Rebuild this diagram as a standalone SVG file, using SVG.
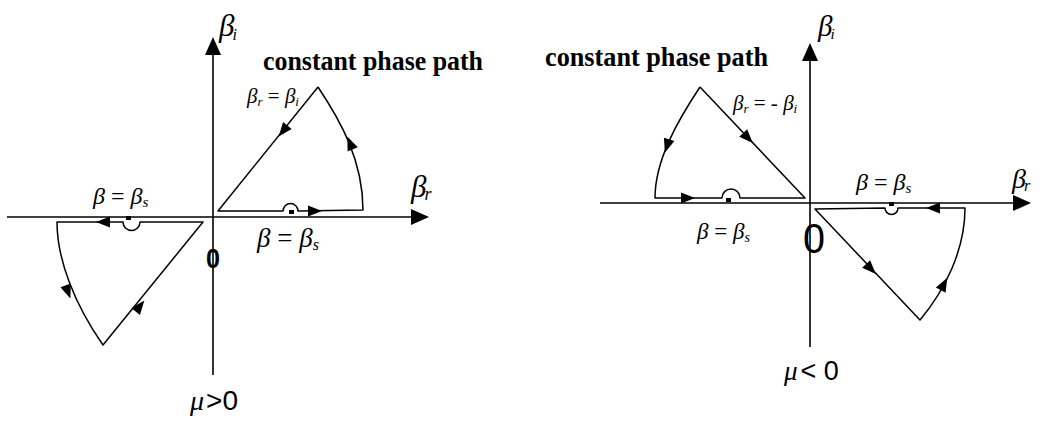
<svg xmlns="http://www.w3.org/2000/svg" xmlns:xlink="http://www.w3.org/1999/xlink" width="1042" height="421" viewBox="0 0 1042 421">
<defs>
<style>
.ax{stroke:#000;stroke-width:1.6;fill:none}
.pth{stroke:#000;stroke-width:1.5;fill:none;stroke-linejoin:round}
.title{font-family:"Liberation Serif",serif;font-weight:bold;font-size:28px;fill:#000}
.gr{font-family:"Liberation Serif",serif;font-style:italic;fill:#000}
.num{font-family:"Liberation Sans",sans-serif;fill:#000}
</style>
<path id="ah" d="M7,0 L-7,-5.5 L-7,5.5 Z" fill="#000"/>
<path id="axh" d="M0,0 L-18,-8 L-18,8 Z" fill="#000"/>
</defs>
<rect width="1042" height="421" fill="#fff"/>

<g id="left-axes">
<line class="ax" x1="7" y1="217" x2="414" y2="217"/>
<use xlink:href="#axh" transform="translate(429,217)"/>
<line class="ax" x1="213" y1="375" x2="213" y2="54"/>
<use xlink:href="#axh" transform="translate(213,37) rotate(-90)"/>
<text class="gr" x="219" y="36" font-size="31">β<tspan font-size="16" dx="-2" dy="4">i</tspan></text>
<text class="gr" x="411" y="197" font-size="31">β<tspan font-size="18" dx="-2" dy="3">r</tspan></text>
<text class="num" x="206" y="268" font-size="28" font-weight="bold" textLength="14" lengthAdjust="spacingAndGlyphs">0</text>
<text x="190" y="410" font-size="28"><tspan class="gr">μ</tspan><tspan class="num" dx="2">&gt;0</tspan></text>
<text class="title" x="263" y="70" textLength="220" lengthAdjust="spacingAndGlyphs">constant phase path</text>
</g>

<g id="left-q1-path">
<path class="pth" d="M318,87 L218,211 L283,211 A7.5,7.5 0 0 1 298,211 L363,210 C363,160 340,120 318,87"/>
<rect x="289" y="210" width="5" height="4" fill="#000"/>
<use xlink:href="#ah" transform="translate(315,211)"/>
<use xlink:href="#ah" transform="translate(283,131) rotate(128.7)"/>
<use xlink:href="#ah" transform="translate(350,143) rotate(-112.7)"/>
<text class="gr" x="247" y="103" font-size="21">β<tspan font-size="13" dy="3">r</tspan><tspan dy="-3" font-style="normal"> = </tspan>β<tspan font-size="13" dy="3">i</tspan></text>
<text class="gr" x="257" y="247" font-size="27">β<tspan font-style="normal"> = </tspan>β<tspan font-size="16" dy="3">s</tspan></text>
</g>

<g id="left-q3-path">
<path class="pth" d="M203,222 L140,222 A8.5,8.5 0 0 1 123,222 L57,222 C57,260 75,305 103,345 Z"/>
<rect x="126" y="216" width="5" height="4" fill="#000"/>
<use xlink:href="#ah" transform="translate(103,222) rotate(180)"/>
<use xlink:href="#ah" transform="translate(68,292) rotate(70)"/>
<use xlink:href="#ah" transform="translate(140,306) rotate(-50.9)"/>
<text class="gr" x="93" y="204" font-size="24">β<tspan font-style="normal"> = </tspan>β<tspan font-size="15" dy="3">s</tspan></text>
</g>

<g id="right-axes">
<line class="ax" x1="600" y1="203" x2="1015" y2="203"/>
<use xlink:href="#axh" transform="translate(1031,203)"/>
<line class="ax" x1="810" y1="347" x2="810" y2="60"/>
<use xlink:href="#axh" transform="translate(810,43) rotate(-90)"/>
<text class="gr" x="818" y="36" font-size="29">β<tspan font-size="15" dx="-2" dy="3">i</tspan></text>
<text class="gr" x="1012" y="188" font-size="28">β<tspan font-size="16" dx="-2" dy="3">r</tspan></text>
<text class="num" x="803" y="253" font-size="42" textLength="22" lengthAdjust="spacingAndGlyphs">0</text>
<text x="784" y="380" font-size="27"><tspan class="gr">μ</tspan><tspan class="num" dx="3">&lt; 0</tspan></text>
<text class="title" x="545" y="66" textLength="223" lengthAdjust="spacingAndGlyphs">constant phase path</text>
</g>

<g id="right-q2-path">
<path class="pth" d="M700,87 L805,198 L740,198 A9,9 0 0 0 722,198 L655,198 C655,160 678,120 700,87"/>
<rect x="726" y="198" width="5" height="4" fill="#000"/>
<use xlink:href="#ah" transform="translate(688,198)"/>
<use xlink:href="#ah" transform="translate(748,138) rotate(46.6)"/>
<use xlink:href="#ah" transform="translate(667,146) rotate(108)"/>
<text class="gr" x="733" y="110" font-size="21">β<tspan font-size="13" dy="3">r</tspan><tspan dy="-3" font-style="normal"> = - </tspan>β<tspan font-size="13" dy="3">i</tspan></text>
<text class="gr" x="697" y="239" font-size="23">β<tspan font-style="normal"> = </tspan>β<tspan font-size="14" dy="3">s</tspan></text>
</g>

<g id="right-q4-path">
<path class="pth" d="M815,209 L920,320 C945,290 965,250 965,208 L898,208 A6.5,6.5 0 0 1 885,208 Z"/>
<rect x="889" y="202" width="5" height="4" fill="#000"/>
<use xlink:href="#ah" transform="translate(933,208) rotate(180)"/>
<use xlink:href="#ah" transform="translate(871,269) rotate(46.3)"/>
<use xlink:href="#ah" transform="translate(944,284) rotate(-62)"/>
<text class="gr" x="856" y="190" font-size="24">β<tspan font-style="normal"> = </tspan>β<tspan font-size="15" dy="3">s</tspan></text>
</g>
</svg>
